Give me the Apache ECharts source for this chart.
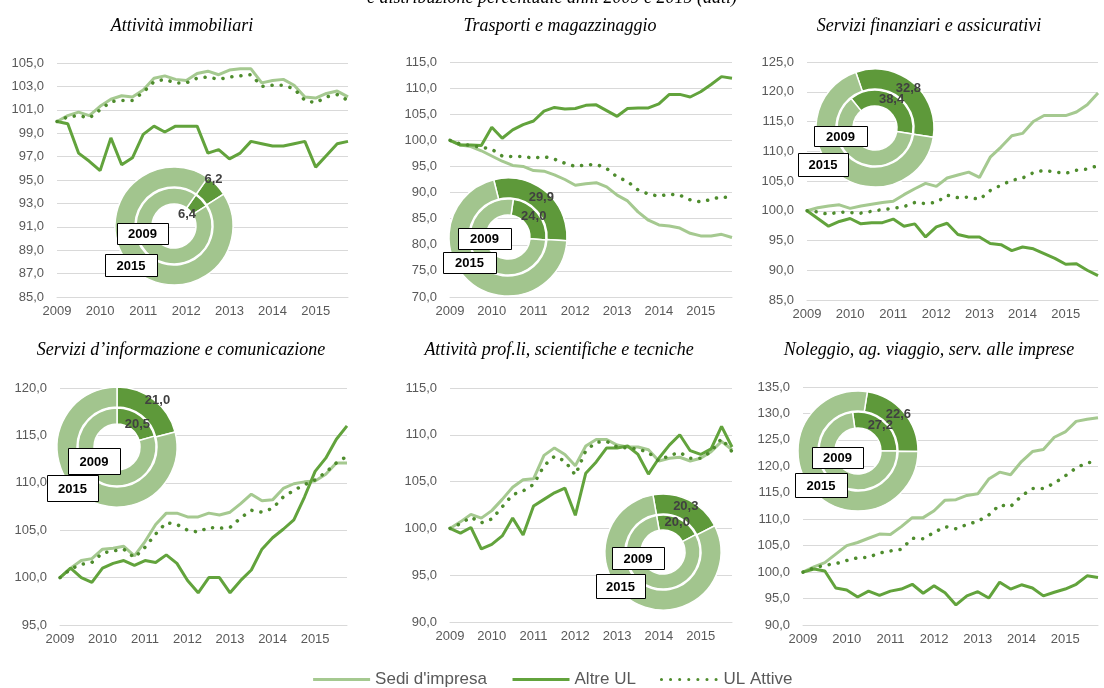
<!DOCTYPE html>
<html>
<head>
<meta charset="utf-8">
<script src="https://cdn.jsdelivr.net/npm/echarts@6/dist/echarts.min.js"></script>
<style>
  html, body { margin: 0; padding: 0; background: #fff; }
  #main { width: 1104px; height: 688px; }
</style>
</head>
<body>
<div id="main"></div>
<script>
const years = ['2009', '2010', '2011', '2012', '2013', '2014', '2015'];
const quarters = [];
years.forEach(y => ['I', 'II', 'III', 'IV'].forEach(q => quarters.push(y + ' ' + q)));

const seriesNames = ["Sedi d'impresa", 'Altre UL', 'UL Attive'];

// Attività immobiliari
const immSedi = [100.0, 100.5, 100.8, 100.5, 101.3, 101.9, 102.2, 102.1, 102.7, 103.7, 103.9, 103.6, 103.5, 104.1, 104.3, 104.0, 104.4, 104.5, 104.5, 103.3, 103.5, 103.6, 103.1, 102.1, 102.0, 102.4, 102.6, 102.1];
const immAltre = [100.0, 99.8, 97.3, 96.6, 95.8, 98.6, 96.3, 96.9, 98.9, 99.6, 99.1, 99.6, 99.6, 99.6, 97.3, 97.6, 96.8, 97.3, 98.3, 98.1, 97.9, 97.9, 98.1, 98.3, 96.1, 97.1, 98.1, 98.3];
const immAttive = [100.0, 100.4, 100.5, 100.3, 101.0, 101.7, 101.8, 101.8, 102.5, 103.4, 103.6, 103.3, 103.3, 103.7, 103.8, 103.6, 103.8, 103.9, 104.0, 103.0, 103.1, 103.1, 102.8, 101.8, 101.6, 102.1, 102.3, 101.8];

// Trasporti e magazzinaggio
const traSedi = [100.0, 99.1, 98.8, 98.0, 97.0, 96.0, 95.2, 95.0, 94.2, 94.1, 93.4, 92.5, 91.4, 91.7, 91.9, 91.1, 89.5, 88.4, 86.3, 84.7, 83.8, 83.6, 83.2, 82.2, 81.7, 81.7, 82.0, 81.4];
const traAltre = [100.0, 99.1, 99.1, 99.0, 102.5, 100.4, 102.0, 103.0, 103.7, 105.6, 106.3, 106.0, 106.1, 106.7, 106.8, 105.7, 104.6, 106.1, 106.2, 106.2, 107.0, 108.8, 108.8, 108.3, 109.3, 110.7, 112.2, 111.9];
const traAttive = [100.0, 99.3, 99.0, 98.7, 98.3, 97.0, 96.9, 96.9, 96.6, 96.9, 96.4, 95.6, 95.0, 95.3, 95.4, 94.6, 93.0, 92.1, 90.5, 89.7, 89.3, 89.7, 89.5, 88.6, 88.2, 88.7, 89.2, 88.9];

// Servizi finanziari e assicurativi
const finSedi = [100.0, 100.5, 100.8, 101.0, 100.4, 100.8, 101.1, 101.4, 101.6, 102.7, 103.7, 104.6, 104.1, 105.5, 106.0, 106.5, 105.6, 109.0, 110.7, 112.6, 113.0, 115.0, 116.0, 116.0, 116.0, 116.6, 117.8, 119.8];
const finAltre = [100.0, 98.7, 97.4, 98.2, 98.7, 97.8, 98.0, 98.0, 98.6, 97.4, 97.8, 95.6, 97.3, 97.9, 96.0, 95.6, 95.6, 94.5, 94.3, 93.3, 93.9, 93.6, 92.8, 92.0, 91.0, 91.1, 90.0, 89.1];
const finAttive = [100.0, 99.8, 99.4, 99.8, 99.7, 99.6, 99.9, 100.2, 100.4, 100.7, 101.4, 101.2, 101.4, 102.6, 102.2, 102.3, 101.9, 103.4, 104.3, 105.1, 105.5, 106.4, 106.8, 106.5, 106.3, 106.8, 107.0, 107.6];

// Servizi d'informazione e comunicazione
const infSedi = [100.0, 101.0, 101.8, 102.0, 103.0, 103.1, 103.3, 102.3, 103.8, 105.6, 106.8, 106.8, 106.4, 106.4, 106.8, 106.6, 106.9, 107.8, 108.8, 108.1, 108.2, 109.4, 109.9, 110.1, 110.2, 110.9, 112.1, 112.1];
const infAltre = [100.0, 101.0, 100.0, 99.5, 101.0, 101.5, 101.8, 101.3, 101.8, 101.6, 102.4, 101.5, 99.7, 98.4, 100.0, 100.0, 98.4, 99.7, 100.8, 103.0, 104.2, 105.1, 106.1, 108.5, 111.2, 112.6, 114.6, 116.0];
const infAttive = [100.0, 100.9, 101.4, 101.6, 102.6, 102.8, 103.0, 102.1, 103.2, 104.6, 105.8, 105.6, 105.0, 104.8, 105.3, 105.2, 105.3, 106.3, 107.1, 106.9, 107.3, 108.5, 109.2, 109.8, 110.3, 111.1, 112.1, 112.8];

// Attività prof.li, scientifiche e tecniche
const proSedi = [100.0, 100.7, 101.5, 101.1, 101.9, 103.1, 104.4, 105.2, 105.3, 107.8, 108.6, 107.9, 106.7, 108.8, 109.5, 109.5, 108.9, 108.7, 108.7, 108.4, 107.2, 107.5, 107.6, 107.2, 107.5, 108.2, 109.3, 108.4];
const proAltre = [100.0, 99.5, 100.1, 97.8, 98.3, 99.2, 101.1, 99.3, 102.4, 103.1, 103.8, 104.3, 101.4, 105.9, 107.1, 108.6, 108.6, 108.8, 107.9, 105.8, 107.5, 108.9, 110.0, 108.3, 107.9, 108.5, 110.9, 108.7];
const proAttive = [100.0, 100.5, 101.2, 100.6, 101.0, 102.3, 103.6, 104.0, 104.7, 106.7, 107.7, 107.2, 105.7, 108.3, 109.2, 109.3, 108.7, 108.6, 108.5, 108.1, 107.2, 107.8, 108.1, 107.5, 107.5, 108.2, 109.6, 108.2];

// Noleggio, ag. viaggio, serv. alle imprese
const nolSedi = [100.0, 101.0, 101.8, 103.4, 105.0, 105.6, 106.4, 107.2, 107.1, 108.6, 110.3, 110.3, 111.6, 113.6, 113.7, 114.5, 114.8, 117.6, 118.9, 118.4, 120.9, 122.8, 123.2, 125.5, 126.5, 128.5, 128.9, 129.2];
const nolAltre = [100.0, 100.6, 100.2, 97.0, 96.6, 95.3, 96.4, 95.6, 96.4, 96.8, 97.7, 96.0, 97.4, 96.1, 93.8, 95.5, 96.3, 95.1, 98.1, 96.8, 97.6, 97.0, 95.5, 96.2, 96.8, 97.7, 99.3, 99.0];
const nolAttive = [100.0, 100.8, 101.3, 101.6, 102.2, 102.7, 102.8, 103.6, 104.0, 104.3, 106.4, 106.3, 107.5, 108.6, 108.2, 109.0, 109.6, 110.8, 112.7, 112.4, 114.4, 115.8, 115.8, 116.8, 118.2, 119.7, 120.7, 120.8];

// quota % Altre UL nelle ciambelle (anello esterno 2015, interno 2009)
const share2015 = [6.2, 29.9, 32.8, 21.0, 20.3, 22.6];
const share2009 = [6.4, 24.0, 38.4, 20.5, 20.0, 27.2];

const panelTitles = ['Attività immobiliari', 'Trasporti e magazzinaggio', 'Servizi finanziari e assicurativi',
  'Servizi d\u2019informazione e comunicazione', 'Attività prof.li, scientifiche e tecniche', 'Noleggio, ag. viaggio, serv. alle imprese'];
const panelData = [
  [immSedi, immAltre, immAttive],
  [traSedi, traAltre, traAttive],
  [finSedi, finAltre, finAttive],
  [infSedi, infAltre, infAttive],
  [proSedi, proAltre, proAttive],
  [nolSedi, nolAltre, nolAttive]
];
const yRanges = [[85, 105, 2], [70, 115, 5], [85, 125, 5], [95, 120, 5], [90, 115, 5], [90, 135, 5]];

// layout
const panels = [
  { grid: [57, 63, 291, 234], title: [182, 17], center: [174, 226], r: 59, start15: 35, start09: 35,
    shift15: [2, -11], shift09: [-11, 11],
    box09: [117, 223, 51, 21], box15: [105, 254, 52, 22] },
  { grid: [450, 62, 282, 235], title: [560, 17], center: [508, 237], r: 59, start15: -14, start09: 8,
    shift15: [0, 0], shift09: [0, 0],
    box09: [458, 228, 53, 21], box15: [443, 252, 53, 21] },
  { grid: [807, 62, 291, 238], title: [929, 17], center: [875, 128], r: 59, start15: -19, start09: -39,
    shift15: [0, 0], shift09: [0, 0],
    box09: [814, 126, 53, 20], box15: [798, 153, 50, 23] },
  { grid: [60, 388, 287, 237], title: [181, 341], center: [117, 447], r: 60, start15: 0, start09: 0,
    shift15: [8, -5], shift09: [0, 5],
    box09: [68, 448, 52, 26], box15: [47, 475, 51, 26] },
  { grid: [450, 388, 282, 234], title: [559, 341], center: [663, 552], r: 58, start15: -10, start09: -10,
    shift15: [0, 0], shift09: [0, 0],
    box09: [612, 547, 52, 22], box15: [596, 574, 49, 24] },
  { grid: [803, 387, 295, 238], title: [929, 341], center: [858, 451], r: 60, start15: 9, start09: -8,
    shift15: [0, -2], shift09: [0, 0],
    box09: [812, 447, 51, 21], box15: [795, 473, 52, 24] }
];

const colSedi = '#A5C990';
const colAltre = '#62A33C';
const colAttive = '#4E8C2D';
const colLight = '#A2C58E';
const colDark = '#5E993A';
const gridColor = '#D9D9D9';
const labelColor = '#595959';
const sans = '"Liberation Sans", Arial, sans-serif';

const fmt = v => v.toFixed(1).replace('.', ',');

const grids = [], xAxes = [], yAxes = [], series = [], titles = [], graphics = [];

panels.forEach((p, i) => {
  grids.push({ left: p.grid[0], top: p.grid[1], width: p.grid[2], height: p.grid[3] });
  xAxes.push({
    type: 'category', gridIndex: i, data: quarters, boundaryGap: false,
    axisLine: { show: true, lineStyle: { color: gridColor } },
    axisTick: { show: false },
    axisLabel: { interval: 3, margin: 8, color: labelColor, fontSize: 13, fontFamily: sans,
      formatter: v => v.slice(0, 4) }
  });
  yAxes.push({
    type: 'value', gridIndex: i, min: yRanges[i][0], max: yRanges[i][1], interval: yRanges[i][2],
    axisLine: { show: false }, axisTick: { show: false },
    splitLine: { lineStyle: { color: gridColor, width: 1 } },
    axisLabel: { margin: 13, color: labelColor, fontSize: 13, fontFamily: sans, formatter: fmt }
  });
  titles.push({
    text: panelTitles[i], left: p.title[0], top: p.title[1], textAlign: 'center', padding: 0,
    textStyle: { fontFamily: '"Liberation Serif", "Times New Roman", serif', fontStyle: 'italic',
      fontWeight: 'normal', fontSize: 18, color: '#000' }
  });

  const [sedi, altre, attive] = panelData[i];
  series.push({
    name: seriesNames[0], type: 'line', xAxisIndex: i, yAxisIndex: i, data: sedi,
    symbol: 'none', lineStyle: { color: colSedi, width: 3 }, itemStyle: { color: colSedi }
  });
  series.push({
    name: seriesNames[1], type: 'line', xAxisIndex: i, yAxisIndex: i, data: altre,
    symbol: 'none', lineStyle: { color: colAltre, width: 3 }, itemStyle: { color: colAltre }
  });
  series.push({
    name: seriesNames[2], type: 'line', xAxisIndex: i, yAxisIndex: i, data: attive,
    symbol: 'none', lineStyle: { color: colAttive, width: 3.5, type: [0.1, 9], cap: 'round' },
    itemStyle: { color: colAttive }
  });

  const ring = (share, radius, startDeg, shift) => ({
    type: 'pie', center: p.center, radius: radius, startAngle: 90 - startDeg, clockwise: true,
    silent: true, avoidLabelOverlap: false, z: 5,
    labelLayout: { hideOverlap: false, dx: shift[0], dy: shift[1] },
    itemStyle: { borderColor: '#fff', borderWidth: 1.5 },
    label: { show: true, position: 'inside', color: '#404040', fontWeight: 'bold', fontSize: 13,
      fontFamily: sans, formatter: d => fmt(d.value) },
    labelLine: { show: false },
    emphasis: { disabled: true },
    data: [
      { name: 'quota', value: share, itemStyle: { color: colDark } },
      { name: 'resto', value: 100 - share, itemStyle: { color: colLight }, label: { show: false } }
    ]
  });
  series.push(ring(share2015[i], [Math.round(p.r * 0.66), p.r], p.start15, p.shift15));
  series.push(ring(share2009[i], [Math.round(p.r * 0.38), Math.round(p.r * 0.645)], p.start09, p.shift09));

  [[p.box09, '2009'], [p.box15, '2015']].forEach(([b, t]) => {
    graphics.push({
      type: 'rect', z: 100, shape: { x: b[0] + 0.5, y: b[1] + 0.5, width: b[2], height: b[3] },
      style: { fill: '#fff', stroke: '#000', lineWidth: 1 }
    });
    graphics.push({
      type: 'text', z: 101, x: b[0] + b[2] / 2, y: b[1] + b[3] / 2 + 1,
      style: { text: t, fill: '#000', font: 'bold 13px ' + sans, align: 'center', verticalAlign: 'middle' }
    });
  });
});

graphics.push({
  type: 'text', z: 100, x: 552, y: 7,
  style: { text: 'e distribuzione percentuale anni 2009 e 2015 (dati)', fill: '#000',
    font: 'italic 18px "Liberation Serif", serif', align: 'center', verticalAlign: 'bottom' }
});

const myChart = echarts.init(document.getElementById('main'));
const option = {
  animation: false,
  backgroundColor: '#fff',
  title: titles,
  grid: grids,
  xAxis: xAxes,
  yAxis: yAxes,
  legend: {
    data: seriesNames, top: 666, left: 'center', itemWidth: 57, itemHeight: 14, itemGap: 24,
    itemStyle: { opacity: 0 },
    lineStyle: { width: 3 },
    textStyle: { color: labelColor, fontSize: 17, fontFamily: sans }
  },
  graphic: graphics,
  series: series
};
myChart.setOption(option);
</script>
</body>
</html>
